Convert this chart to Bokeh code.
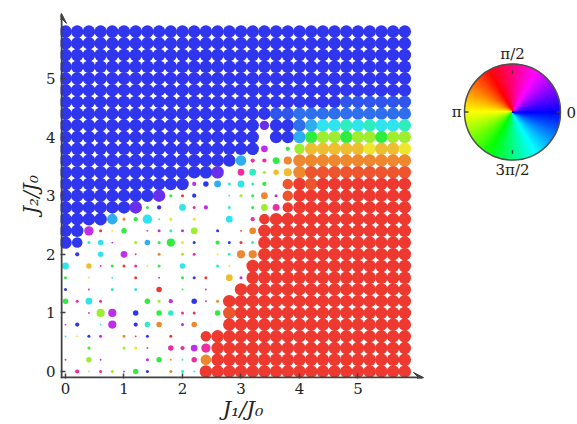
import colorsys
import math
from bokeh.plotting import figure
from bokeh.layouts import row
from bokeh.models import ColumnDataSource, Range1d, Arrow, VeeHead, FixedTicker
from bokeh.core.properties import value
from bokeh.embed import file_html
from bokeh.resources import INLINE

# ---------------- data ----------------
J1 = [0.0, 0.2, 0.4, 0.6, 0.8, 1.0, 1.2, 1.4, 1.6, 1.8, 2.0, 2.2, 2.4, 2.6, 2.8,
      3.0, 3.2, 3.4, 3.6, 3.8, 4.0, 4.2, 4.4, 4.6, 4.8, 5.0, 5.2, 5.4, 5.6, 5.8]
J2 = [0.0, 0.2, 0.4, 0.6, 0.8, 1.0, 1.2, 1.4, 1.6, 1.8, 2.0, 2.2, 2.4, 2.6, 2.8,
      3.0, 3.2, 3.4, 3.6, 3.8, 4.0, 4.2, 4.4, 4.6, 4.8, 5.0, 5.2, 5.4, 5.6, 5.8]

# amplitude class per grid cell (rows: J2 = 5.8 at top ... 0.0 at bottom; '.' = none)
SIZE_ROWS = [
    "99999 99999 99999 99999 99999 99999",  # 5.8
    "99999 99999 99999 99999 99999 99999",  # 5.6
    "99999 99999 99999 99999 99999 99999",  # 5.4
    "99999 99999 99999 99999 99999 99999",  # 5.2
    "99999 99999 99999 99999 99999 99999",  # 5.0
    "99999 99999 99999 99999 99999 99999",  # 4.8
    "99999 99999 99999 99999 99999 99999",  # 4.6
    "99999 99999 99999 99999 99999 99999",  # 4.4
    "99999 99999 99999 99799 99999 99999",  # 4.2
    "99999 99999 99999 99.99 99999 99999",  # 4.0
    "99999 99999 99999 995.3 89999 99999",  # 3.8
    "99999 99999 99999 83356 99999 99999",  # 3.6
    "99999 99999 9999. 55246 99999 99999",  # 3.4
    "99999 99999 93452 523.8 99999 99999",  # 3.2
    "99999 99992 23..1 22528 99999 99999",  # 3.0
    "99999 9923. 523.2 .2558 99999 99999",  # 2.8
    "99998 23712 .2..5 .3899 99999 99999",  # 2.6
    "99721 4.122 25.2. 15999 99999 99999",  # 2.4
    "98241 .2426 22.32 22999 99999 99999",  # 2.2
    ".3.4. 51.2. 22.12 66999 99999 99999",  # 2.0
    "5.412 2212. 4..21 .9999 99999 99999",  # 1.8
    "2.1.1 .2.1. 222.5 29999 99999 99999",  # 1.6
    "2.1.2 .2.4. 1.1.. 99999 99999 99999",  # 1.4
    "4252. ..423 .4129 99999 99999 99999",  # 1.2
    "..166 .4.44 22.49 99999 99999 99999",  # 1.0
    "13.16 .344. 24..9 99999 99999 99999",  # 0.8
    "1122. 212.2 ..899 99999 99999 99999",  # 0.6
    "..2.. 221.4 35799 99999 99999 99999",  # 0.4
    "1.41. ..241 14899 99999 99999 99999",  # 0.2
    ".3122 142.2 21999 99999 99999 99999",  # 0.0
]

# phase class per grid cell (same layout)
PHASE_ROWS = [
    "bbbbb bbbbb bbbbb bbbbb bbbbb bbbbb",
    "bbbbb bbbbb bbbbb bbbbb bbbbb bbbbb",
    "bbbbb bbbbb bbbbb bbbbb bbbbb bbbbb",
    "bbbbb bbbbb bbbbb bbbbb bbbbb bbbbb",
    "bbbbb bbbbb bbbbb bbbbb bbbbb bbbbb",
    "bbbbb bbbbb bbbbb bbbbb bbbbb bbbbb",
    "bbbbb bbbbb bbbbb bbbbb bbbbk kkkkk",
    "bbbbb bbbbb bbbbb bbbkk lllll lllll",
    "bbbbb bbbbb bbbbb bbvbb lscct ctcct",
    "bbbbb bbbbb bbbbb bb.bb sghhg hhghh",
    "bbbbb bbbbb bbbbb bbp.g haaaa ayaay",
    "bbbbb bbbbb bbbbb smmgo ooooo ooooo",
    "bbbbb bbbbb bbbv. mthaa oeeee eeeee",
    "bbbbb bbbbb bpbst ctg.e rerrr rrrrr",
    "bbbbb bbbvg rb..c hgope rrrrr rrrrr",
    "bbbbb bvgb. cmp.t .ghmr rrrrr rrrrr",
    "bbbbs ogcty .y..c .mrrr rrrrr rrrrr",
    "bbpry g.ppt ph.b. rorrr rrrrr rrrrr",
    "bbccp .hsgg yb.gb rtrrr rrrrr rrrrr",
    ".b.c. pm.o. hm.yt oorrr rrrrr rrrrr",
    "c.amg rmyg. c..ty .rrrr rrrrr rrrrr",
    "g.y.c .r.p. gbr.a prrrr rrrrr rrrrr",
    "b.p.t .c.r. g.m.. rrrrr rrrrr rrrrr",
    "gmcm. ..ghp .bpor rrrrr rrrrr rrrrr",
    "..php .b.gt mr.ge rrrrr rrrrr rrrrr",
    "mb.cp .bto. po..r rrrrr rrrrr rrrrr",
    "cybp. orb.r ..rrr rrrrr rrrrr rrrrr",
    "..g.. hym.m mpmrr rrrrr rrrrr rrrrr",
    "m.hp. ..pgo tmorr rrrrr rrrrr rrrrr",
    ".mymh pgb.o tcrrr rrrrr rrrrr rrrrr",
]

# phase (degrees) for each class
PHASE_DEG = {"b": 358, "k": 348, "l": 340, "s": 320, "c": 303, "t": 285,
             "g": 245, "h": 205, "y": 178, "a": 165, "o": 148, "e": 132,
             "r": 123, "m": 85, "p": 45, "v": 18}
# dot radius (in J units) for each amplitude class
RADIUS = {"1": 0.016, "2": 0.026, "3": 0.036, "4": 0.047, "5": 0.058,
          "6": 0.07, "7": 0.08, "8": 0.09, "9": 0.107}

X_TICKS = [0, 1, 2, 3, 4, 5]
Y_TICKS = [0, 1, 2, 3, 4, 5]
X_LABEL = "J₁/J₀"
Y_LABEL = "J₂/J₀"
WHEEL_LABELS = ["0", "π/2", "π", "3π/2"]
WHEEL_LABEL_ANGLES = [0, 90, 180, 270]


def phase_color(deg, s=0.8, v=0.93):
    h = ((240 + deg) % 360) / 360.0
    r, g, b = colorsys.hsv_to_rgb(h, s, v)
    return "#%02x%02x%02x" % (round(r * 255), round(g * 255), round(b * 255))


xs, ys, rs, cs = [], [], [], []
n_rows = len(SIZE_ROWS)
for k, (srow, prow) in enumerate(zip(SIZE_ROWS, PHASE_ROWS)):
    srow = srow.replace(" ", "")
    prow = prow.replace(" ", "")
    j = n_rows - 1 - k
    for i, (sc, pc) in enumerate(zip(srow, prow)):
        if sc == "." or pc == ".":
            continue
        xs.append(J1[i])
        ys.append(J2[j])
        rs.append(RADIUS[sc])
        cs.append(phase_color(PHASE_DEG[pc]))

src = ColumnDataSource(dict(x=xs, y=ys, r=rs, c=cs))

# ---------------- main figure ----------------
p = figure(width=435, height=424, output_backend="svg", toolbar_location=None, title=None,
           x_range=Range1d(-0.0855, 6.154), y_range=Range1d(-0.1195, 6.160),
           min_border_left=60, min_border_right=10, min_border_top=10, min_border_bottom=46)
p.outline_line_color = None
p.xgrid.visible = False
p.ygrid.visible = False
p.background_fill_color = "white"
p.border_fill_color = "white"

p.circle(x="x", y="y", radius="r", fill_color="c", line_color=None, source=src)

axis_col = "#404040"
p.xaxis.axis_label = X_LABEL
p.yaxis.axis_label = Y_LABEL
for ax, ticks, standoff, lstand, lsize in ((p.xaxis[0], X_TICKS, 4, 0, "21px"),
                                           (p.yaxis[0], Y_TICKS, 5, 0, "20px")):
    ax.ticker = FixedTicker(ticks=ticks)
    ax.axis_line_color = None
    ax.major_tick_in = 5
    ax.major_tick_out = 0
    ax.minor_tick_line_color = None
    ax.major_tick_line_color = axis_col
    ax.major_tick_line_width = 1.5
    ax.major_label_standoff = standoff
    ax.major_label_text_font = "DejaVu Serif"
    ax.major_label_text_font_size = "15px"
    ax.major_label_text_color = "#222222"
    ax.axis_label_standoff = lstand
    ax.axis_label_text_font = "DejaVu Serif"
    ax.axis_label_text_font_style = "italic"
    ax.axis_label_text_font_size = lsize
    ax.axis_label_text_color = "#222222"

# axis arrows
p.add_layout(Arrow(end=VeeHead(size=10, fill_color=axis_col, line_color=axis_col),
                   x_start=-0.0855, y_start=-0.102, x_end=6.12, y_end=-0.102,
                   line_color=axis_col, line_width=2))
p.add_layout(Arrow(end=VeeHead(size=10, fill_color=axis_col, line_color=axis_col),
                   x_start=-0.068, y_start=-0.1195, x_end=-0.068, y_end=6.11,
                   line_color=axis_col, line_width=2))

# ---------------- colour wheel (pixel-like coordinates) ----------------
WW, WH = 142, 424
w = figure(width=WW, height=WH, output_backend="svg", toolbar_location=None, title=None,
           x_axis_type=None, y_axis_type=None,
           x_range=Range1d(0, WW), y_range=Range1d(0, WH),
           min_border_left=0, min_border_right=0, min_border_top=0, min_border_bottom=0)
w.grid.visible = False
w.outline_line_color = None

cx, cy, R = 77, WH - 117, 48
step = 1.5
angs = [a * step for a in range(int(360 / step))]
wcols = [phase_color(a + step / 2, 1.0, 1.0) for a in angs]
w.wedge(x=cx, y=cy, radius=R,
        start_angle=[math.radians(a) for a in angs],
        end_angle=[math.radians(a + step) for a in angs],
        fill_color=wcols, line_color=wcols, line_width=0.8)
w.circle(x=cx, y=cy, radius=R, fill_color=None, line_color="#505050", line_width=1.5)
tk = 4
w.segment(x0=[cx + (R - tk) * math.cos(math.radians(a)) for a in WHEEL_LABEL_ANGLES],
          y0=[cy + (R - tk) * math.sin(math.radians(a)) for a in WHEEL_LABEL_ANGLES],
          x1=[cx + R * math.cos(math.radians(a)) for a in WHEEL_LABEL_ANGLES],
          y1=[cy + R * math.sin(math.radians(a)) for a in WHEEL_LABEL_ANGLES],
          line_color="#404040", line_width=1.5)
lab_r = {0: 54, 90: 57, 180: 51, 270: 56}
aligns = {0: "left", 90: "center", 180: "right", 270: "center"}
baselines = {0: "middle", 90: "bottom", 180: "middle", 270: "top"}
w.text(x=[cx + lab_r[a] * math.cos(math.radians(a)) for a in WHEEL_LABEL_ANGLES],
       y=[cy + lab_r[a] * math.sin(math.radians(a)) for a in WHEEL_LABEL_ANGLES],
       text=WHEEL_LABELS, text_font=value("DejaVu Serif"), text_font_size="15px",
       text_align=[aligns[a] for a in WHEEL_LABEL_ANGLES],
       text_baseline=[baselines[a] for a in WHEEL_LABEL_ANGLES],
       text_color="#222222")

open("out.html", "w").write(file_html(row(p, w), INLINE))
